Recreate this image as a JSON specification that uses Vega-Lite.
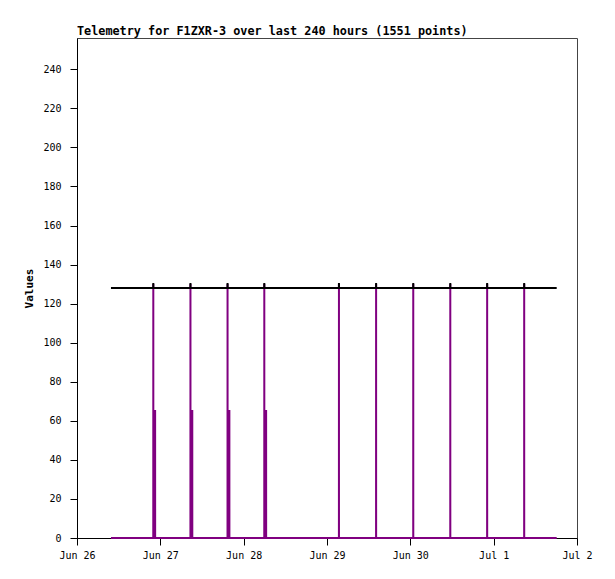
{
  "$schema": "https://vega.github.io/schema/vega-lite/v6.json",
  "width": 500,
  "height": 500,
  "autosize": "none",
  "padding": {"left": 77, "top": 38, "right": 38, "bottom": 41},
  "background": "white",
  "title": {
    "text": "Telemetry for F1ZXR-3 over last 240 hours (1551 points)",
    "anchor": "start",
    "frame": "group",
    "font": "DejaVu Sans Mono",
    "fontSize": 11.8,
    "fontWeight": "bold",
    "color": "#000000",
    "offset": 0
  },
  "config": {
    "view": {"stroke": "#444444", "strokeWidth": 1},
    "axis": {
      "labelFont": "DejaVu Sans Mono",
      "labelFontSize": 10,
      "labelColor": "#000000",
      "titleFont": "DejaVu Sans Mono",
      "titleFontSize": 11,
      "titleFontWeight": "bold",
      "titleColor": "#000000",
      "domainColor": "#000000",
      "tickColor": "#000000",
      "tickSize": 7,
      "grid": false,
      "zindex": 0
    }
  },
  "data": {
    "values": [
      {"t": "2024-06-26T09:47:00Z", "v": 0, "series": "signal"},
      {"t": "2024-06-26T21:58:00Z", "v": 0, "series": "signal"},
      {"t": "2024-06-26T21:58:30Z", "v": 130, "series": "signal"},
      {"t": "2024-06-26T21:59:00Z", "v": 65, "series": "signal"},
      {"t": "2024-06-26T22:30:00Z", "v": 65, "series": "signal"},
      {"t": "2024-06-26T22:30:30Z", "v": 0, "series": "signal"},
      {"t": "2024-06-27T08:40:00Z", "v": 0, "series": "signal"},
      {"t": "2024-06-27T08:40:30Z", "v": 130, "series": "signal"},
      {"t": "2024-06-27T08:41:00Z", "v": 65, "series": "signal"},
      {"t": "2024-06-27T09:12:00Z", "v": 65, "series": "signal"},
      {"t": "2024-06-27T09:12:30Z", "v": 0, "series": "signal"},
      {"t": "2024-06-27T19:21:00Z", "v": 0, "series": "signal"},
      {"t": "2024-06-27T19:21:30Z", "v": 130, "series": "signal"},
      {"t": "2024-06-27T19:22:00Z", "v": 65, "series": "signal"},
      {"t": "2024-06-27T19:53:00Z", "v": 65, "series": "signal"},
      {"t": "2024-06-27T19:53:30Z", "v": 0, "series": "signal"},
      {"t": "2024-06-28T05:56:00Z", "v": 0, "series": "signal"},
      {"t": "2024-06-28T05:56:30Z", "v": 130, "series": "signal"},
      {"t": "2024-06-28T05:57:00Z", "v": 65, "series": "signal"},
      {"t": "2024-06-28T06:28:00Z", "v": 65, "series": "signal"},
      {"t": "2024-06-28T06:28:30Z", "v": 0, "series": "signal"},
      {"t": "2024-06-29T03:26:00Z", "v": 0, "series": "signal"},
      {"t": "2024-06-29T03:26:30Z", "v": 130, "series": "signal"},
      {"t": "2024-06-29T03:27:00Z", "v": 0, "series": "signal"},
      {"t": "2024-06-29T14:08:00Z", "v": 0, "series": "signal"},
      {"t": "2024-06-29T14:08:30Z", "v": 130, "series": "signal"},
      {"t": "2024-06-29T14:09:00Z", "v": 0, "series": "signal"},
      {"t": "2024-06-30T00:50:00Z", "v": 0, "series": "signal"},
      {"t": "2024-06-30T00:50:30Z", "v": 130, "series": "signal"},
      {"t": "2024-06-30T00:51:00Z", "v": 0, "series": "signal"},
      {"t": "2024-06-30T11:30:00Z", "v": 0, "series": "signal"},
      {"t": "2024-06-30T11:30:30Z", "v": 130, "series": "signal"},
      {"t": "2024-06-30T11:31:00Z", "v": 0, "series": "signal"},
      {"t": "2024-06-30T22:07:00Z", "v": 0, "series": "signal"},
      {"t": "2024-06-30T22:07:30Z", "v": 130, "series": "signal"},
      {"t": "2024-06-30T22:08:00Z", "v": 0, "series": "signal"},
      {"t": "2024-07-01T08:47:00Z", "v": 0, "series": "signal"},
      {"t": "2024-07-01T08:47:30Z", "v": 130, "series": "signal"},
      {"t": "2024-07-01T08:48:00Z", "v": 0, "series": "signal"},
      {"t": "2024-07-01T18:09:00Z", "v": 0, "series": "signal"},
      {"t": "2024-06-26T09:47:00Z", "v": 128, "series": "threshold"},
      {"t": "2024-06-26T21:58:00Z", "v": 128, "series": "threshold"},
      {"t": "2024-06-26T21:58:30Z", "v": 130.5, "series": "threshold"},
      {"t": "2024-06-26T21:59:00Z", "v": 128, "series": "threshold"},
      {"t": "2024-06-27T08:40:00Z", "v": 128, "series": "threshold"},
      {"t": "2024-06-27T08:40:30Z", "v": 130.5, "series": "threshold"},
      {"t": "2024-06-27T08:41:00Z", "v": 128, "series": "threshold"},
      {"t": "2024-06-27T19:21:00Z", "v": 128, "series": "threshold"},
      {"t": "2024-06-27T19:21:30Z", "v": 130.5, "series": "threshold"},
      {"t": "2024-06-27T19:22:00Z", "v": 128, "series": "threshold"},
      {"t": "2024-06-28T05:56:00Z", "v": 128, "series": "threshold"},
      {"t": "2024-06-28T05:56:30Z", "v": 130.5, "series": "threshold"},
      {"t": "2024-06-28T05:57:00Z", "v": 128, "series": "threshold"},
      {"t": "2024-06-29T03:26:00Z", "v": 128, "series": "threshold"},
      {"t": "2024-06-29T03:26:30Z", "v": 130.5, "series": "threshold"},
      {"t": "2024-06-29T03:27:00Z", "v": 128, "series": "threshold"},
      {"t": "2024-06-29T14:08:00Z", "v": 128, "series": "threshold"},
      {"t": "2024-06-29T14:08:30Z", "v": 130.5, "series": "threshold"},
      {"t": "2024-06-29T14:09:00Z", "v": 128, "series": "threshold"},
      {"t": "2024-06-30T00:50:00Z", "v": 128, "series": "threshold"},
      {"t": "2024-06-30T00:50:30Z", "v": 130.5, "series": "threshold"},
      {"t": "2024-06-30T00:51:00Z", "v": 128, "series": "threshold"},
      {"t": "2024-06-30T11:30:00Z", "v": 128, "series": "threshold"},
      {"t": "2024-06-30T11:30:30Z", "v": 130.5, "series": "threshold"},
      {"t": "2024-06-30T11:31:00Z", "v": 128, "series": "threshold"},
      {"t": "2024-06-30T22:07:00Z", "v": 128, "series": "threshold"},
      {"t": "2024-06-30T22:07:30Z", "v": 130.5, "series": "threshold"},
      {"t": "2024-06-30T22:08:00Z", "v": 128, "series": "threshold"},
      {"t": "2024-07-01T08:47:00Z", "v": 128, "series": "threshold"},
      {"t": "2024-07-01T08:47:30Z", "v": 130.5, "series": "threshold"},
      {"t": "2024-07-01T08:48:00Z", "v": 128, "series": "threshold"},
      {"t": "2024-07-01T18:09:00Z", "v": 128, "series": "threshold"}
    ]
  },
  "mark": {"type": "line", "strokeWidth": 2, "interpolate": "linear", "clip": false},
  "encoding": {
    "x": {
      "field": "t",
      "type": "temporal",
      "scale": {
        "type": "utc",
        "domain": [
          {"year": 2024, "month": 6, "date": 26, "utc": true},
          {"year": 2024, "month": 7, "date": 2, "utc": true}
        ]
      },
      "axis": {
        "title": null,
        "values": [
          {"year": 2024, "month": 6, "date": 26, "utc": true},
          {"year": 2024, "month": 6, "date": 27, "utc": true},
          {"year": 2024, "month": 6, "date": 28, "utc": true},
          {"year": 2024, "month": 6, "date": 29, "utc": true},
          {"year": 2024, "month": 6, "date": 30, "utc": true},
          {"year": 2024, "month": 7, "date": 1, "utc": true},
          {"year": 2024, "month": 7, "date": 2, "utc": true}
        ],
        "format": "%b %-d",
        "labelPadding": 5,
        "labelFlush": false,
        "labelOverlap": false
      }
    },
    "y": {
      "field": "v",
      "type": "quantitative",
      "scale": {"domain": [0, 256], "nice": false, "zero": true},
      "axis": {
        "title": "Values",
        "values": [0, 20, 40, 60, 80, 100, 120, 140, 160, 180, 200, 220, 240],
        "labelPadding": 9,
        "titlePadding": 8,
        "labelFlush": false,
        "labelOverlap": false
      }
    },
    "color": {
      "field": "series",
      "type": "nominal",
      "scale": {"domain": ["signal", "threshold"], "range": ["#800080", "#000000"]},
      "legend": null
    },
    "order": {"field": "t", "type": "temporal"}
  }
}
